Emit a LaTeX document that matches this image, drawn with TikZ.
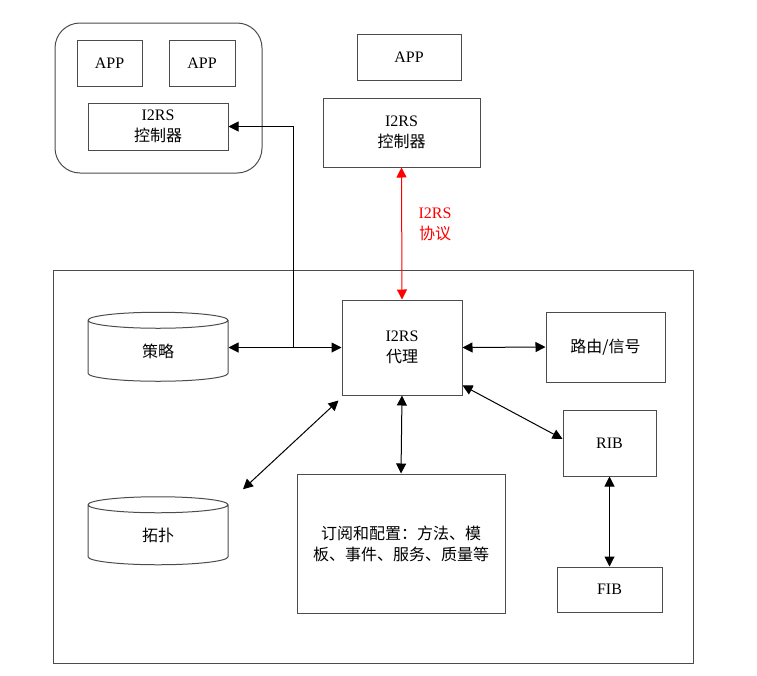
\documentclass[tikz,border=0pt]{standalone}
\usepackage{fontspec}
\setmainfont{Liberation Serif}
\newfontfamily\cjk{Noto Sans CJK SC}
\usetikzlibrary{shapes.geometric,arrows.meta}

\begin{document}
\begin{tikzpicture}[x=1pt,y=-1pt,
  box/.style={draw=black!70,line width=1pt,align=center,inner sep=0pt,font=\fontsize{16}{21}\selectfont},
  drum/.style={draw=black!70,line width=1pt,cylinder,shape border rotate=90,aspect=0.5,inner sep=0pt,font=\fontsize{16}{21}\selectfont\cjk},
  link/.style={line width=1pt,{Triangle[length=10pt,width=10pt]}-{Triangle[length=10pt,width=10pt]}}]
\useasboundingbox (0,0) rectangle (757,675);

% controller side
\node[box,rounded corners=25pt,minimum width=207pt,minimum height=150pt] (ctrlgroup) at (158.5,98) {};
\node[box,minimum width=65pt,minimum height=46pt] (appa) at (109.5,63) {APP};
\node[box,minimum width=66pt,minimum height=46pt] (appb) at (202,63) {APP};
\node[box,minimum width=140pt,minimum height=47pt] (ctrlL) at (158,126.5) {I2RS\\{\cjk 控制器}};
\node[box,minimum width=104pt,minimum height=46pt] (appr) at (409,57) {APP};
\node[box,minimum width=157pt,minimum height=69pt] (ctrlR) at (401.5,132.5) {I2RS\\{\cjk 控制器}};

% routing element
\node[box,minimum width=640pt,minimum height=393pt] (domain) at (373,466.5) {};
\node[box,minimum width=120pt,minimum height=95pt] (agent) at (402,347.5) {I2RS\\{\cjk 代理}};
\node[drum,minimum width=140pt,minimum height=69pt] (policy) at (158,351) {策略};
\node[drum,minimum width=140pt,minimum height=68pt] (topo) at (158,535) {拓扑};
\node[box,minimum width=119pt,minimum height=70pt] (route) at (605.5,347) {\cjk 路由/信号};
\node[box,minimum width=93pt,minimum height=66pt] (rib) at (609.5,443) {RIB};
\node[box,minimum width=105pt,minimum height=45pt] (fib) at (609.5,589.5) {FIB};
\node[box,minimum width=208pt,minimum height=139pt] (sub) at (401,543.5) {\cjk 订阅和配置：方法、模\\\cjk 板、事件、服务、质量等};

% protocol
\draw[link,red] (ctrlR.south) -- (agent.north);
\node[text=red,align=center,font=\fontsize{16}{21}\selectfont] (proto) at (435,224) {I2RS\\{\cjk 协议}};

% connectors
\coordinate (tap) at (293,347.5);
\draw[link] (policy.east |- agent.west) -- (agent.west);
\draw[line width=1pt,-{Triangle[length=10pt,width=10pt]}] (tap) |- (ctrlL.east);
\draw[link] (agent.east) -- (route.west);
\draw[link] (agent.south) -- (sub.north);
\draw[link] (agent.-32) -- (rib.175);
\draw[link] (rib.south) -- (fib.north);
\draw[link] ([shift={(-3pt,-5pt)}]agent.south west) -- ([shift={(85pt,7pt)}]topo.north);
\end{tikzpicture}
\end{document}
